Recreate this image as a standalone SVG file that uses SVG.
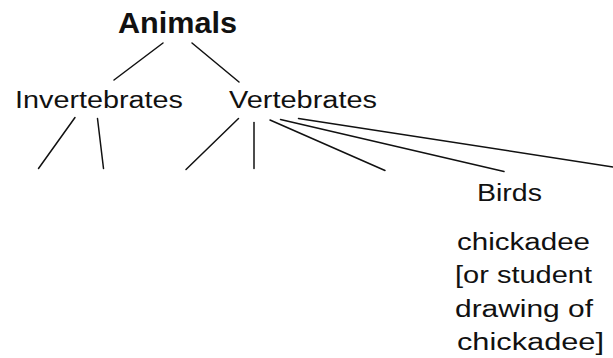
<svg xmlns="http://www.w3.org/2000/svg" width="613" height="358" viewBox="0 0 613 358">
<style>
text{font-family:"Liberation Sans",Arial,Helvetica,sans-serif;fill:#111;font-size:23px}
.title{font-weight:bold;font-size:29px}
.edge{stroke:#111;stroke-width:1.5;fill:none;stroke-linecap:round}
</style>
<rect width="613" height="358" fill="#fff"/>
<g id="connectors">
<line class="edge" x1="163" y1="43" x2="114" y2="80"/>
<line class="edge" x1="192" y1="43" x2="239" y2="82"/>
<line class="edge" x1="75" y1="117.5" x2="38.5" y2="168.5"/>
<line class="edge" x1="97.5" y1="118.5" x2="103.5" y2="168.5"/>
<line class="edge" x1="238.5" y1="118.5" x2="186" y2="169.5"/>
<line class="edge" x1="254" y1="122.5" x2="254" y2="168.5"/>
<line class="edge" x1="270" y1="120" x2="385" y2="170.5"/>
<line class="edge" x1="280.5" y1="119.5" x2="504" y2="171.5"/>
<line class="edge" x1="298.5" y1="118.5" x2="613" y2="167"/>
</g>
<g id="animals"><text class="title" x="118" y="33" textLength="119" lengthAdjust="spacingAndGlyphs">Animals</text></g>
<g id="invertebrates"><text x="15" y="108" textLength="168" lengthAdjust="spacingAndGlyphs">Invertebrates</text></g>
<g id="vertebrates"><text x="229" y="108" textLength="148" lengthAdjust="spacingAndGlyphs">Vertebrates</text></g>
<g id="birds"><text x="477" y="201" textLength="65" lengthAdjust="spacingAndGlyphs">Birds</text></g>
<g id="chickadee">
<text x="457" y="250" textLength="133" lengthAdjust="spacingAndGlyphs">chickadee</text>
<text x="455" y="283" textLength="137" lengthAdjust="spacingAndGlyphs">[or student</text>
<text x="455" y="316.5" textLength="138" lengthAdjust="spacingAndGlyphs">drawing of</text>
<text x="457" y="350" textLength="147" lengthAdjust="spacingAndGlyphs">chickadee]</text>
</g>
</svg>
